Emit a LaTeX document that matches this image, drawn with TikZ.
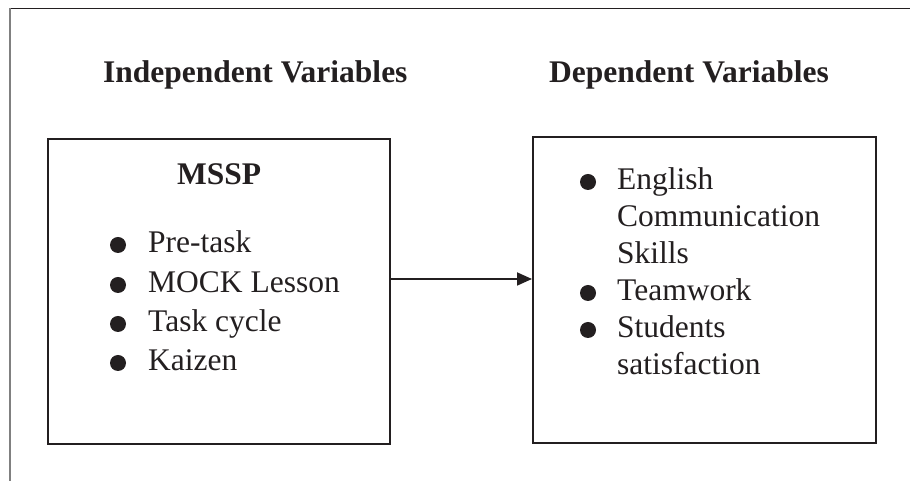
\documentclass[tikz,border=0pt]{standalone}
\usepackage{fontspec}
\setmainfont{Liberation Serif}
\usetikzlibrary{arrows.meta}
\definecolor{ink}{HTML}{231F20}
\tikzset{
  box/.style={draw=ink, line width=2pt, inner sep=0pt},
  txt/.style={anchor=base west, inner sep=0pt, text=ink, font=\fontsize{31.5}{37}\selectfont},
  head/.style={anchor=base west, inner sep=0pt, text=ink, font=\fontsize{31.5}{37}\selectfont\bfseries},
  dot/.style={circle, fill=ink, inner sep=0pt, minimum size=16pt},
  conn/.style={draw=ink, line width=1.8pt, -{Triangle[length=15pt,width=13pt]}}
}
\begin{document}
\begin{tikzpicture}[x=1pt,y=1pt]
\useasboundingbox (0,0) rectangle (910,481);
% outer frame
\draw[ink, line width=1.5pt] (9,472.5) -- (910,472.5);
\draw[black!50, line width=1.5pt] (10,473) -- (10,0);
% headings
\node[head] (h1) at (103,398) {Independent Variables};
\node[head] (h2) at (549,398) {Dependent Variables};
% boxes
\node[box, minimum width=342pt, minimum height=305pt] (L) at (219,189.5) {};
\node[box, minimum width=343pt, minimum height=306pt] (R) at (704.5,191) {};
% left content
\node[head] (mssp) at (177,296) {MSSP};
\node[dot] (b1) at (118,236) {};
\node[txt] (t1) at (148,228) {Pre-task};
\node[dot] (b2) at (118,196) {};
\node[txt] (t2) at (148,188) {MOCK Lesson};
\node[dot] (b3) at (118,157) {};
\node[txt] (t3) at (148,149) {Task cycle};
\node[dot] (b4) at (118,118) {};
\node[txt] (t4) at (148,110) {Kaizen};
% right content
\node[dot] (c1) at (588,299) {};
\node[txt] (u1) at (617,291) {English};
\node[txt] (u2) at (617,254) {Communication};
\node[txt] (u3) at (617,217) {Skills};
\node[dot] (c2) at (588,188) {};
\node[txt] (u4) at (617,180) {Teamwork};
\node[dot] (c3) at (588,151) {};
\node[txt] (u5) at (617,143) {Students};
\node[txt] (u6) at (617,106) {satisfaction};
% arrow
\coordinate (a1) at (390,202);
\draw[conn] (a1) -- (a1 -| R.west);
\end{tikzpicture}
\end{document}
